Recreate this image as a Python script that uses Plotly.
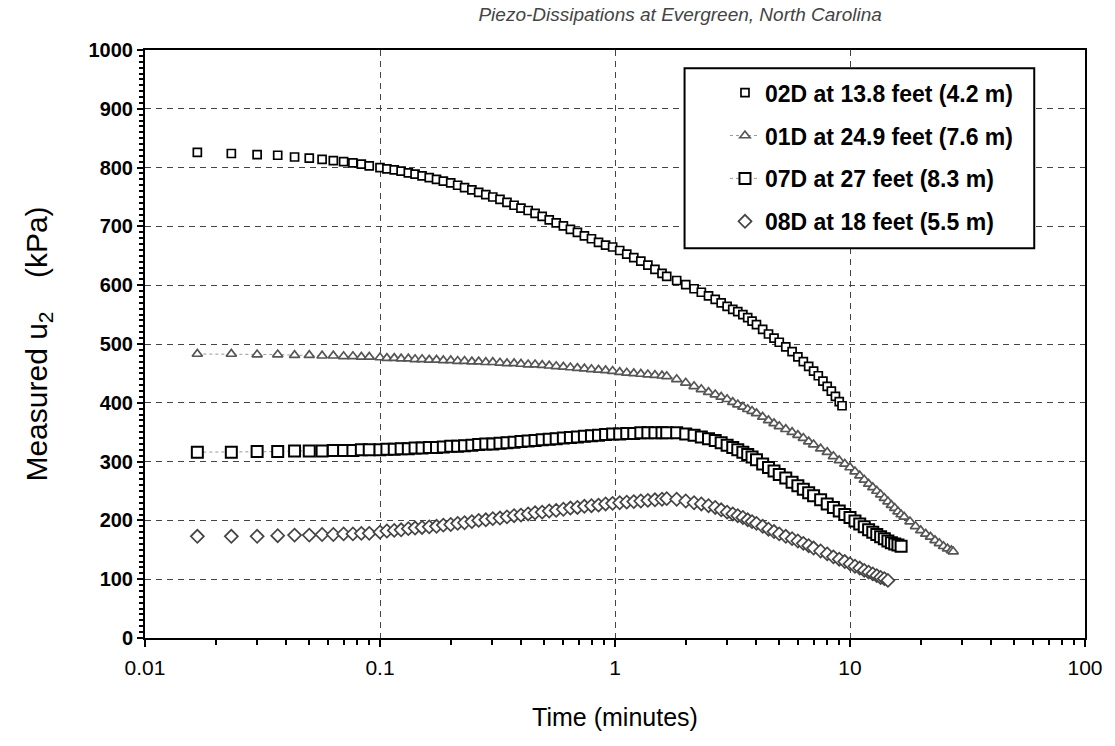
import plotly.graph_objects as go

# ---------------- data (time in minutes, u2 in kPa) ----------------
T_EARLY = [0.0167, 0.0233, 0.0300, 0.0367, 0.0433, 0.0500, 0.0567, 0.0633, 0.0700, 0.0767, 0.0833, 0.0900,
           0.100, 0.107, 0.115, 0.123, 0.132, 0.141, 0.151, 0.162, 0.174, 0.186,
           0.200, 0.214, 0.229, 0.246, 0.263, 0.282, 0.302, 0.324, 0.347, 0.372,
           0.398, 0.427, 0.457, 0.490, 0.525, 0.562, 0.603, 0.646, 0.692, 0.741,
           0.794, 0.851, 0.912, 0.977, 1.047, 1.122, 1.202, 1.288, 1.380, 1.479,
           1.585, 1.660]

T_LATE = [1.83, 2.0, 2.17, 2.33, 2.5, 2.67, 2.83, 3.0, 3.17, 3.33,
          3.5, 3.67, 3.83, 4.0, 4.25, 4.5, 4.75, 5.0, 5.33, 5.67,
          6.0, 6.33, 6.67, 7.0, 7.5, 8.0, 8.5, 9.0, 9.5, 10.0,
          10.5, 11.0, 11.5, 12.0, 12.5, 13.0, 13.5, 14.0, 14.5, 15.0,
          15.5, 16.0, 16.5, 17.0, 18.0, 19.0, 20.0, 21.0, 22.0, 23.0,
          24.0, 25.0, 26.0, 27.0, 27.5]

T_LATE_02D = [1.83, 2.0, 2.17, 2.33, 2.5, 2.67, 2.83, 3.0, 3.17, 3.33,
              3.5, 3.67, 3.83, 4.0, 4.25, 4.5, 4.75, 5.0, 5.33, 5.67,
              6.0, 6.33, 6.67, 7.0, 7.33, 7.67, 8.0, 8.33, 8.67, 9.0, 9.25]

U_02D_EARLY = [826, 824, 822, 821, 818, 816, 814, 812, 810, 808, 806, 803,
               800, 798, 796, 794, 791, 789, 786, 783, 780, 777,
               774, 770, 766, 762, 758, 754, 750, 746, 741, 736,
               731, 727, 722, 717, 711, 706, 701, 695, 690, 684,
               679, 673, 668, 665, 659, 653, 647, 641, 634, 627,
               620, 615]
U_02D_LATE = [608, 601, 594, 588, 582, 576, 570, 564, 559, 555,
              550, 545, 539, 533, 525, 517, 510, 503, 495, 487,
              478, 470, 462, 454, 446, 437, 428, 420, 411, 402, 395]

U_01D_EARLY = [483, 483, 482, 482, 481, 481, 480, 480, 479, 479, 478, 478,
               477, 476, 476, 475, 475, 474, 474, 473, 473, 472,
               472, 471, 471, 470, 470, 469, 469, 468, 467, 467,
               466, 465, 465, 464, 463, 462, 461, 460, 459, 458,
               457, 456, 455, 454, 452, 451, 450, 449, 448, 447,
               446, 445]
U_01D_LATE = [440, 434, 428, 423, 418, 414, 410, 406, 401, 397,
              393, 389, 386, 382, 376, 370, 365, 360, 355, 350,
              345, 340, 334, 329, 322, 316, 309, 302, 296, 290,
              283, 276, 269, 262, 256, 250, 244, 238, 232, 226,
              221, 215, 210, 206, 198, 190, 183, 177, 172, 166,
              161, 156, 152, 149, 147]

U_07D_EARLY = [316, 316, 317, 317, 318, 318, 318, 319, 319, 319, 320, 320,
               320, 321, 321, 322, 322, 323, 323, 324, 324, 325,
               326, 326, 327, 328, 329, 330, 330, 331, 332, 333,
               334, 335, 336, 337, 338, 339, 340, 341, 342, 343,
               344, 345, 346, 347, 347, 348, 348, 349, 349, 349,
               349, 349]
U_07D_LATE = [349, 347, 345, 342, 339, 336, 332, 328, 324, 320,
              316, 312, 308, 303, 296, 290, 284, 278, 272, 265,
              259, 253, 247, 242, 235, 228, 222, 216, 210, 205,
              199, 194, 189, 184, 180, 176, 172, 169, 165, 162,
              160, 158, 156]

U_08D_EARLY = [173, 173, 173, 174, 175, 175, 176, 176, 177, 177, 178, 178,
               180, 182, 183, 184, 186, 187, 188, 189, 190, 192,
               193, 195, 196, 198, 200, 201, 203, 204, 206, 208,
               209, 211, 213, 214, 216, 217, 219, 221, 222, 224,
               225, 226, 228, 229, 230, 231, 232, 233, 234, 235,
               236, 237]
U_08D_LATE = [236, 233, 230, 228, 225, 222, 218, 214, 211, 208,
              205, 201, 198, 195, 190, 185, 181, 177, 173, 169,
              165, 161, 157, 153, 148, 143, 138, 134, 130, 126,
              122, 119, 115, 112, 109, 106, 103, 101, 98]

SERIES_NAMES = ["02D at 13.8 feet (4.2 m)", "01D at 24.9 feet (7.6 m)",
                "07D at 27 feet (8.3 m)", "08D at 18 feet (5.5 m)"]

X_TICKS = [0.01, 0.1, 1, 10, 100]
X_TICK_TEXT = ["0.01", "0.1", "1", "10", "100"]

# ---------------- figure ----------------
series = [
    (SERIES_NAMES[0], T_EARLY + T_LATE_02D, U_02D_EARLY + U_02D_LATE,
     dict(symbol="square", size=8, color="white", line=dict(color="black", width=1.7)), None),
    (SERIES_NAMES[1], T_EARLY + T_LATE[:len(U_01D_LATE)], U_01D_EARLY + U_01D_LATE,
     dict(symbol="triangle-up", size=9, color="white", line=dict(color="#555555", width=1.7)),
     dict(color="#999999", width=1, dash="dot")),
    (SERIES_NAMES[2], T_EARLY + T_LATE[:len(U_07D_LATE)], U_07D_EARLY + U_07D_LATE,
     dict(symbol="square", size=11, color="white", line=dict(color="black", width=2)),
     dict(color="#999999", width=1, dash="dot")),
    (SERIES_NAMES[3], T_EARLY + T_LATE[:len(U_08D_LATE)], U_08D_EARLY + U_08D_LATE,
     dict(symbol="diamond", size=10, color="white", line=dict(color="#444444", width=1.7)), None),
]

fig = go.Figure()
for i, (name, t, u, mk, ln) in enumerate(series):
    fig.add_trace(go.Scatter(
        x=t, y=u, name=name, legendgroup=f"g{i}",
        mode="lines+markers" if ln else "markers",
        marker=mk, line=ln if ln else None,
    ))

font_main = "Liberation Sans, Arial, sans-serif"
nb = "\u00a0"

fig.update_layout(
    width=1115, height=746,
    margin=dict(l=145, r=24, t=50, b=108),
    paper_bgcolor="white", plot_bgcolor="white",
    font=dict(family=font_main, color="black"),
    title=dict(text="Piezo-Dissipations at Evergreen, North Carolina",
               font=dict(family=font_main, size=19, color="#444444", style="italic"),
               x=0.61, xanchor="center", y=0.981, yanchor="middle", yref="container"),
    showlegend=True,
    legend=dict(x=0.617, y=0.964, xanchor="left", yanchor="top",
                bgcolor="rgba(0,0,0,0)", borderwidth=0,
                font=dict(family=font_main, size=23, color="black", weight="bold"),
                tracegroupgap=10, itemsizing="trace"),
    shapes=[dict(type="rect", xref="paper", yref="paper",
                 x0=0.574, x1=0.946, y0=0.663, y1=0.969,
                 line=dict(color="black", width=2), fillcolor="white", layer="above")],
)

fig.update_xaxes(
    type="log", range=[-2, 2],
    tickvals=X_TICKS, ticktext=X_TICK_TEXT,
    tickfont=dict(family=font_main, size=21, color="black"),
    ticks="outside", ticklen=7, tickwidth=1.5, tickcolor="black",
    ticklabelstandoff=3,
    minor=dict(ticks="outside", ticklen=5, tickcolor="black", dtick="D1", showgrid=False),
    showline=True, linecolor="black", linewidth=2, mirror=True,
    showgrid=True, gridcolor="#444444", gridwidth=1, griddash="6px,5px",
    zeroline=False,
    title=dict(text="Time (minutes)", font=dict(family=font_main, size=25, color="black"), standoff=30),
)

fig.update_yaxes(
    range=[0, 1000], dtick=100,
    tickfont=dict(family=font_main, size=20, color="black", weight="bold"),
    ticks="outside", ticklen=6, tickwidth=1.5, tickcolor="black",
    minor=dict(ticks="outside", ticklen=4, tickcolor="black", dtick=10, showgrid=False),
    showline=True, linecolor="black", linewidth=2, mirror=True,
    showgrid=True, gridcolor="#444444", gridwidth=1, griddash="6px,5px",
    zeroline=False,
    title=dict(text=nb * 3 + "Measured u<sub>2</sub>" + nb * 4 + "(kPa)",
               font=dict(family=font_main, size=30, color="black"), standoff=32),
)

fig.write_html("out.html", config={"displayModeBar": False},
               post_script="document.body.style.margin='0';")
